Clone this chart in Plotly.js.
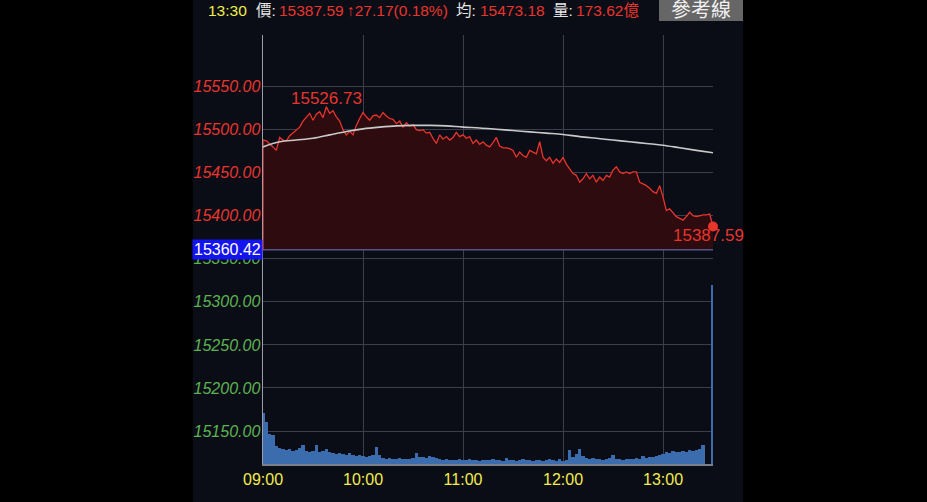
<!DOCTYPE html>
<html>
<head>
<meta charset="utf-8">
<script src="https://cdn.plot.ly/plotly-3.0.1.min.js"></script>
<style>
  html, body { margin: 0; padding: 0; background: #000; }
  #chart { width: 927px; height: 502px; }
</style>
</head>
<body>
<div id="chart"></div>
<script>
// ---------------- DATA ----------------
const prevClose = 15360.42;          // reference line (昨收)
const closeValue = 15387.59;         // 13:30 close
const avgValue = 15473.18;
const turnover = "173.62億";
const changeText = "↑27.17(0.18%)";
const timeLabels = ["09:00", "10:00", "11:00", "12:00", "13:00"];
const timeTickMinutes = [0, 60, 120, 180, 240];
const priceTicks = [15150, 15200, 15250, 15300, 15350, 15400, 15450, 15500, 15550];

// price every 2 minutes from 09:00 to 13:28
const priceValues = [
  15488, 15487, 15484, 15480, 15476, 15491, 15488, 15487, 15493, 15496,
  15499, 15503, 15510, 15515, 15519, 15511, 15518, 15521, 15514, 15526.73,
  15519, 15522, 15515, 15510, 15500, 15494, 15498, 15494, 15505, 15513,
  15520, 15515, 15511, 15516, 15517, 15514, 15520, 15516, 15513, 15512,
  15507, 15510, 15503, 15508, 15504, 15506, 15500, 15499, 15500, 15496,
  15497, 15490, 15484, 15494, 15489, 15492, 15488, 15491, 15497, 15492,
  15494, 15490, 15492, 15484, 15488, 15483, 15486, 15482, 15480, 15485,
  15491, 15481, 15479, 15479, 15478, 15476, 15468, 15474, 15470, 15468,
  15476, 15474, 15472, 15486, 15468, 15464, 15468, 15461, 15466, 15462,
  15468, 15460, 15455, 15449, 15447, 15439, 15443, 15449, 15443, 15447,
  15439, 15445, 15441, 15447, 15445, 15453, 15457, 15451, 15449, 15451,
  15449, 15451, 15451, 15439, 15437, 15435, 15432, 15428, 15426, 15435,
  15422, 15406, 15408, 15404, 15399, 15397, 15395, 15399, 15404, 15400,
  15399, 15400, 15401, 15401, 15402
];

// average price every 10 minutes from 09:00 to 13:30
const avgValues = [
  15480, 15486, 15488, 15490, 15494, 15498, 15501, 15503, 15504.5, 15505,
  15505, 15504.5, 15503, 15502, 15500.5, 15499, 15497.5, 15496, 15494.5, 15492,
  15490, 15488, 15486, 15484, 15482, 15479, 15476, 15473.18
];

// volume (億) every 2 minutes from 09:00 to 13:24, plus the 13:30 close auction
const volumeValues = [
  3.62, 2.98, 2.13, 2.06, 1.28, 1.14, 1.07, 0.99, 1.07, 0.92,
  0.99, 1.14, 1.35, 0.92, 0.85, 0.92, 1.35, 0.85, 0.92, 1.07,
  0.85, 0.78, 0.71, 0.78, 0.71, 0.64, 0.78, 0.64, 0.57, 0.64,
  0.57, 0.50, 0.57, 0.64, 1.21, 0.64, 0.43, 0.36, 0.43, 0.36,
  0.36, 0.43, 0.36, 0.36, 0.36, 0.43, 0.78, 0.50, 0.50, 0.43,
  0.57, 0.50, 0.43, 0.36, 0.28, 0.36, 0.28, 0.28, 0.28, 0.36,
  0.28, 0.28, 0.36, 0.28, 0.28, 0.21, 0.28, 0.28, 0.28, 0.36,
  0.28, 0.28, 0.21, 0.43, 0.28, 0.28, 0.21, 0.28, 0.36, 0.28,
  0.28, 0.21, 0.28, 0.28, 0.21, 0.28, 0.36, 0.28, 0.21, 0.36,
  0.21, 0.28, 0.99, 0.50, 0.71, 1.07, 0.57, 0.43, 0.36, 0.43,
  0.36, 0.36, 0.28, 0.36, 0.43, 0.64, 0.36, 0.36, 0.28, 0.36,
  0.36, 0.36, 0.43, 0.36, 0.57, 0.43, 0.50, 0.50, 0.57, 0.64,
  0.71, 0.85, 0.78, 0.92, 0.85, 0.85, 0.92, 0.85, 0.99, 0.92,
  0.99, 1.07, 1.35
];
const closeVolume = 12.71;

// ---------------- BUILD ----------------
const CLOSE_MIN = 270;
const priceX = [0].concat(priceValues.map((_, i) => i * 2), [CLOSE_MIN]);
const priceY = [prevClose].concat(priceValues, [closeValue]);
const avgX = avgValues.map((_, i) => i * 10);
const volX = volumeValues.map((_, i) => i * 2).concat([CLOSE_MIN]);
const volY = volumeValues.concat([closeVolume]);

let maxIdx = 0;
priceValues.forEach((v, i) => { if (v > priceValues[maxIdx]) maxIdx = i; });
const maxVal = priceValues[maxIdx];

const RED = '#e8352c', GREEN = '#5db352', YEL = '#f2ec4c', WHITE = '#e6e6e6';
const FONT = 'Liberation Sans, Arial, Noto Sans CJK TC, sans-serif';

// pixel helpers for paper-referenced decorations
const PL = 263, PR = 713, PT = 35, PB = 464;
const px = v => (v - PL) / (PR - PL);
const py = v => (PB - v) / (PB - PT);

const tickText = priceTicks.map(t =>
  `<span style="color:${t > prevClose ? RED : GREEN}">${t.toFixed(2)}</span>`);

const traces = [
  { x: [0, CLOSE_MIN], y: [prevClose, prevClose], mode: 'lines',
    line: { color: '#545488', width: 1.5 }, hoverinfo: 'skip', showlegend: false },
  { x: priceX, y: priceY, mode: 'lines', fill: 'tonexty', fillcolor: '#2d0b0f',
    line: { color: RED, width: 1.3 }, showlegend: false },
  { x: avgX, y: avgValues, mode: 'lines', line: { color: '#c9c9c9', width: 1.6, shape: 'spline' },
    showlegend: false },
  { x: volX, y: volY, type: 'bar', yaxis: 'y2', width: 1.85,
    marker: { color: '#3a6cae', line: { width: 0 } }, showlegend: false },
  { x: [CLOSE_MIN], y: [closeValue], mode: 'markers',
    marker: { color: RED, size: 10 }, showlegend: false, cliponaxis: false }
];

const header = [
  [206, '13:30', YEL], [254, '價:', WHITE], [277, closeValue.toFixed(2), RED],
  [345, changeText, RED], [454, '均:', WHITE], [478, avgValue.toFixed(2), RED],
  [551, '量:', WHITE], [574, turnover, RED]
];

const annotations = header.map(([x, t, c]) => ({
  xref: 'paper', yref: 'paper', x: px(x), y: py(10), xanchor: 'left', yanchor: 'middle',
  text: t, showarrow: false, font: { family: FONT, size: 15.5, color: c }
}));
annotations.push(
  { xref: 'paper', yref: 'paper', x: px(701), y: py(10), xanchor: 'center', yanchor: 'middle',
    text: '參考線', showarrow: false, font: { family: FONT, size: 20, color: '#f0f0f0' } },
  { xref: 'paper', yref: 'y', x: px(263), y: prevClose, xanchor: 'right', yanchor: 'middle',
    text: prevClose.toFixed(2), showarrow: false, bgcolor: '#1414f0', borderpad: 1,
    font: { family: FONT, size: 16, color: '#ffffff' } },
  { x: maxIdx * 2, y: maxVal, xanchor: 'center', yanchor: 'middle', yshift: 8,
    text: maxVal.toFixed(2), showarrow: false, font: { family: FONT, size: 17, color: RED } },
  { x: CLOSE_MIN, y: closeValue, xanchor: 'center', yanchor: 'middle', xshift: -5, yshift: -9,
    text: closeValue.toFixed(2), showarrow: false, font: { family: FONT, size: 17, color: RED } }
);

const layout = {
  width: 927, height: 502,
  margin: { l: PL, r: 927 - PR, t: PT, b: 502 - PB, pad: 0 },
  paper_bgcolor: '#000000', plot_bgcolor: '#0b0d16',
  showlegend: false,
  xaxis: {
    range: [0, CLOSE_MIN], tickvals: timeTickMinutes, ticktext: timeLabels,
    showgrid: true, gridcolor: '#3c3f4b', gridwidth: 1, zeroline: false,
    showline: true, linecolor: '#7c7f8c', linewidth: 1.5, ticks: '',
    tickfont: { family: FONT, size: 16, color: YEL }, fixedrange: true
  },
  yaxis: {
    range: [15111.7, 15610], tickvals: priceTicks, ticktext: tickText,
    showgrid: true, gridcolor: '#3c3f4b', gridwidth: 1, zeroline: false,
    showline: true, linecolor: '#9c9fab', linewidth: 1.5, ticks: '',
    ticklabelstandoff: -2,
    tickfont: { family: FONT, size: 16, style: 'italic', color: RED }, fixedrange: true
  },
  yaxis2: {
    overlaying: 'y', range: [0, 30.46], visible: false, showgrid: false, fixedrange: true
  },
  bargap: 0,
  shapes: [
    { type: 'rect', xref: 'paper', yref: 'paper', x0: px(193), x1: px(743), y0: py(502), y1: py(0),
      fillcolor: '#0b0d16', line: { width: 0 }, layer: 'below' },
    { type: 'rect', xref: 'paper', yref: 'paper', x0: px(659), x1: px(743), y0: py(21), y1: py(0),
      fillcolor: '#666666', line: { width: 0 }, layer: 'above' }
  ],
  annotations: annotations
};

Plotly.newPlot('chart', traces, layout, { displayModeBar: false, staticPlot: true });
</script>
</body>
</html>
